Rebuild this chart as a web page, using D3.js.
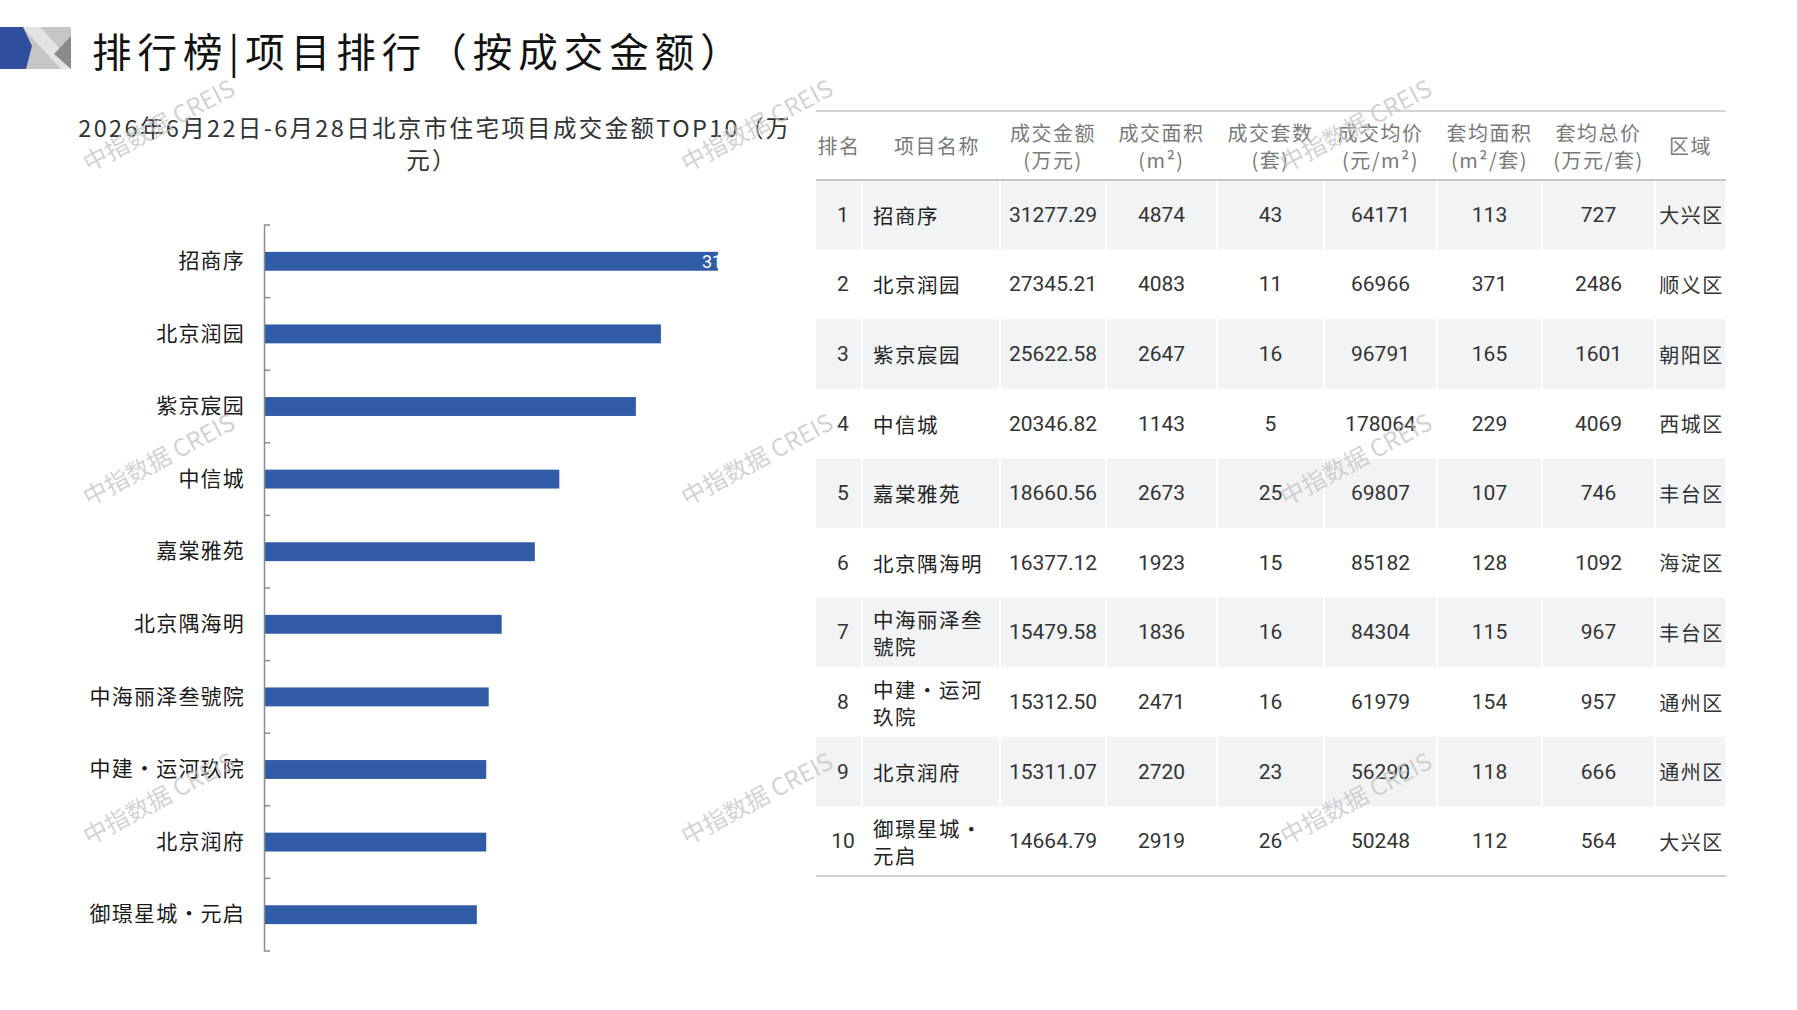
<!DOCTYPE html>
<html>
<head>
<meta charset="utf-8">
<script src="https://cdn.jsdelivr.net/npm/d3@7"></script>
<style>
  html, body { margin: 0; padding: 0; background: #fff; }
  svg { display: block; font-family: "Noto Sans CJK SC", "Noto Sans", sans-serif; }
</style>
</head>
<body>
<div class="svg-container"></div>
<script>
// Data
const categories = ['招商序', '北京润园', '紫京宸园', '中信城', '嘉棠雅苑', '北京隅海明', '中海丽泽叁號院', '中建·运河玖院', '北京润府', '御璟星城·元启'];
const amounts = [31277.29, 27345.21, 25622.58, 20346.82, 18660.56, 16377.12, 15479.58, 15312.50, 15311.07, 14664.79];
const areas = [4874, 4083, 2647, 1143, 2673, 1923, 1836, 2471, 2720, 2919];
const units = [43, 11, 16, 5, 25, 15, 16, 16, 23, 26];
const avgPrices = [64171, 66966, 96791, 178064, 69807, 85182, 84304, 61979, 56290, 50248];
const avgAreas = [113, 371, 165, 229, 107, 128, 115, 154, 118, 112];
const avgTotals = [727, 2486, 1601, 4069, 746, 1092, 967, 957, 666, 564];
const districts = ['大兴区', '顺义区', '朝阳区', '西城区', '丰台区', '海淀区', '丰台区', '通州区', '通州区', '大兴区'];
const headerTop = ['排名', '项目名称', '成交金额', '成交面积', '成交套数', '成交均价', '套均面积', '套均总价', '区域'];
const headerBottom = ['', '', '(万元)', '(m²)', '(套)', '(元/m²)', '(m²/套)', '(万元/套)', ''];
const xTicks = [0, 35000];

const W = 1797, H = 1010;
const BLUE = '#2f5ba7';

const svg = d3.select('.svg-container').append('svg')
    .attr('width', W).attr('height', H);

// Header decoration + title
const deco = svg.append('g');
deco.append('rect').attr('x', 0).attr('y', 27).attr('width', 71).attr('height', 42).attr('fill', '#c6c6c6');
deco.append('path').attr('d', 'M22,27 L40,27 L71,61 L71,69 L61,69 Z').attr('fill', '#e3e3e3');
deco.append('path').attr('d', 'M71,36 L71,69 L54,54 Z').attr('fill', '#8a8a8a');
deco.append('path').attr('d', 'M0,27 L23,27 L32,46 L26,69 L0,69 Z').attr('fill', '#2f4f9e');

svg.append('text')
    .attr('x', 92).attr('y', 49)
    .attr('dominant-baseline', 'central')
    .attr('font-size', 39.5).attr('letter-spacing', 6)
    .attr('fill', '#111')
    .text('排行榜|项目排行（按成交金额）');

// Subtitle
const sub = svg.append('text')
    .attr('text-anchor', 'middle')
    .attr('font-size', 23.5).attr('letter-spacing', 2.35)
    .attr('fill', '#333');
sub.append('tspan').attr('x', 435).attr('y', 137).text('2026年6月22日-6月28日北京市住宅项目成交金额TOP10（万');
sub.append('tspan').attr('x', 432).attr('y', 169).text('元）');

// Bar chart
const axisX = 264;
const x = d3.scaleLinear().domain([xTicks[0], xTicks[1]]).range([axisX, 772]);
const y = d3.scaleBand().domain(categories).range([225, 951])
    .paddingInner(0.74).paddingOuter(0.37);

const chart = svg.append('g');

chart.selectAll('rect.bar')
    .data(categories)
    .enter()
    .append('rect')
    .attr('class', 'bar')
    .attr('x', x(0))
    .attr('y', d => y(d))
    .attr('width', (d, i) => x(amounts[i]) - x(0))
    .attr('height', y.bandwidth())
    .attr('fill', BLUE);

// labels sit at one fixed x and are clipped to their bar
const labelX = x(d3.max(amounts)) - 16;
const defs = svg.append('defs');
categories.forEach((c, i) => {
    defs.append('clipPath').attr('id', `clip-${i}`)
        .append('rect')
        .attr('x', x(0)).attr('y', y(c))
        .attr('width', x(amounts[i]) - x(0)).attr('height', y.bandwidth());
});
chart.selectAll('text.val')
    .data(categories)
    .enter()
    .append('text')
    .attr('class', 'val')
    .attr('clip-path', (d, i) => `url(#clip-${i})`)
    .attr('x', labelX)
    .attr('y', d => y(d) + y.bandwidth() / 2)
    .attr('dominant-baseline', 'central')
    .attr('font-family', 'Roboto, sans-serif')
    .attr('font-size', 18)
    .attr('fill', '#fff')
    .text((d, i) => d3.format('.2f')(amounts[i]));

// category axis
const yAxis = chart.append('g')
    .attr('transform', `translate(${axisX},0)`)
    .call(d3.axisLeft(y).tickSize(0).tickPadding(19));
yAxis.select('.domain').attr('stroke', '#8c8c8c').attr('stroke-width', 1.5);
yAxis.selectAll('text')
    .attr('font-size', 21).attr('letter-spacing', 1.2)
    .attr('fill', '#1a1a1a')
    .attr('font-family', '"Noto Sans CJK SC", sans-serif');

const step = y.step();
chart.selectAll('line.sep')
    .data(d3.range(categories.length + 1))
    .enter()
    .append('line')
    .attr('x1', axisX).attr('x2', axisX + 6)
    .attr('y1', k => y.range()[0] + k * step)
    .attr('y2', k => y.range()[0] + k * step)
    .attr('stroke', '#8c8c8c').attr('stroke-width', 1.5);

// Table
const colEdges = [816, 862, 1000, 1106, 1217, 1324, 1437, 1542, 1655, 1726];
const colMid = i => (colEdges[i] + colEdges[i + 1]) / 2;
const tableTop = 111, headBottom = 180, tableBottom = 876;
const rows = d3.scaleBand().domain(d3.range(categories.length)).range([headBottom, tableBottom]);

const table = svg.append('g');

// striped rows, white gaps between cells
d3.range(categories.length).filter(i => i % 2 === 0).forEach(i => {
    table.selectAll(null)
        .data(d3.range(colEdges.length - 1))
        .enter()
        .append('rect')
        .attr('x', c => colEdges[c] + (c === 0 ? 0 : 1))
        .attr('y', rows(i))
        .attr('width', c => colEdges[c + 1] - colEdges[c] - (c === 0 ? 1 : 2))
        .attr('height', rows.bandwidth())
        .attr('fill', '#f2f3f5');
});

[[tableTop, '#d4d4d4'], [headBottom, '#c4c4c4'], [tableBottom, '#cfcfcf']].forEach(([ly, col]) => {
    table.append('line')
        .attr('x1', colEdges[0]).attr('x2', colEdges[colEdges.length - 1])
        .attr('y1', ly).attr('y2', ly)
        .attr('stroke', col).attr('stroke-width', 2);
});

// header
const headMid = (tableTop + headBottom) / 2;
headerTop.forEach((h, c) => {
    const cx = c === 1 ? colMid(c) + 6 : colMid(c);
    const t = table.append('text')
        .attr('text-anchor', 'middle')
        .attr('font-size', 20).attr('letter-spacing', 1.5)
        .attr('fill', '#7a7a7a');
    if (headerBottom[c]) {
        t.append('tspan').attr('x', cx).attr('y', headMid - 13).attr('dominant-baseline', 'central').text(h);
        t.append('tspan').attr('x', cx).attr('y', headMid + 14).attr('dominant-baseline', 'central').text(headerBottom[c]);
    } else {
        t.attr('x', cx).attr('y', headMid).attr('dominant-baseline', 'central').text(h);
    }
});

// body
const fmt2 = d3.format('.2f');
categories.forEach((name, i) => {
    const cy = rows(i) + rows.bandwidth() / 2;
    const cells = [String(i + 1), null, fmt2(amounts[i]), areas[i], units[i], avgPrices[i], avgAreas[i], avgTotals[i]];
    cells.forEach((v, c) => {
        if (v === null) return;
        table.append('text')
            .attr('x', c === 0 ? colMid(c) + 4 : colMid(c))
            .attr('y', cy)
            .attr('text-anchor', 'middle')
            .attr('dominant-baseline', 'central')
            .attr('font-family', 'Roboto, "Noto Sans", sans-serif')
            .attr('font-size', 21)
            .attr('fill', '#333')
            .text(v);
    });
    // project name, wraps after five characters
    const chars = Array.from(name);
    const lines = chars.length > 5 ? [chars.slice(0, 5).join(''), chars.slice(5).join('')] : [name];
    const nt = table.append('text')
        .attr('font-size', 20.5).attr('letter-spacing', 1.5)
        .attr('fill', '#222');
    lines.forEach((l, k) => {
        nt.append('tspan')
            .attr('x', colEdges[1] + 11)
            .attr('y', cy + (k - (lines.length - 1) / 2) * 27)
            .attr('dominant-baseline', 'central')
            .text(l);
    });
    table.append('text')
        .attr('x', colMid(8) + 1).attr('y', cy)
        .attr('text-anchor', 'middle')
        .attr('dominant-baseline', 'central')
        .attr('font-size', 20).attr('letter-spacing', 1.5)
        .attr('fill', '#333')
        .text(districts[i]);
});

// Watermarks
const wmX = [158, 756, 1355];
const wmY = [124, 458, 797];
const wm = svg.append('g').attr('pointer-events', 'none');
wmY.forEach(wy => wmX.forEach(wx => {
    wm.append('text')
        .attr('transform', `translate(${wx},${wy}) rotate(-28)`)
        .attr('text-anchor', 'middle')
        .attr('dominant-baseline', 'central')
        .attr('font-size', 24)
        .attr('fill', '#c4c4c4')
        .attr('fill-opacity', 0.75)
        .text('中指数据 CREIS');
}));
</script>
</body>
</html>
